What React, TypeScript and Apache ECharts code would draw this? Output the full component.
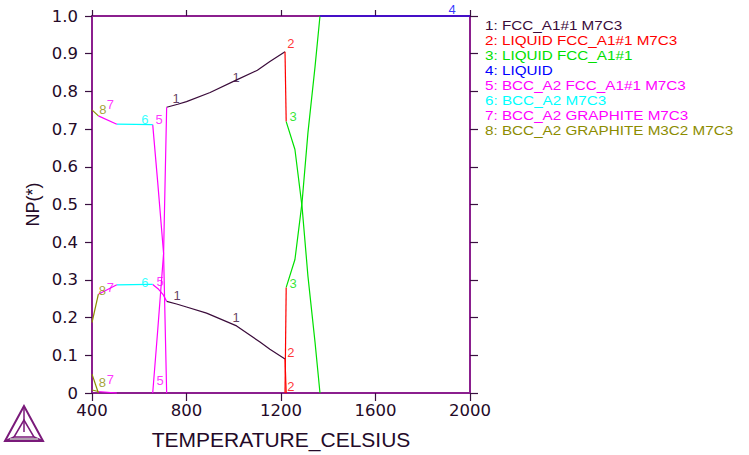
import { useEffect, useRef } from 'react';
import * as echarts from 'echarts';

// phase-region names (legend) and their colours
const regionNames = [
  'FCC_A1#1 M7C3',
  'LIQUID FCC_A1#1 M7C3',
  'LIQUID FCC_A1#1',
  'LIQUID',
  'BCC_A2 FCC_A1#1 M7C3',
  'BCC_A2 M7C3',
  'BCC_A2 GRAPHITE M7C3',
  'BCC_A2 GRAPHITE M3C2 M7C3',
];
const regionColors = ['#3a0b3a', '#ff0000', '#00e000', '#0000ff', '#ff00ff', '#00ffff', '#ff00ff', '#8c8c00'];

const xTicks = [400, 800, 1200, 1600, 2000];

// [temperature, NP] per phase, per region
const r1Fcc = [[716, 0.758], [763, 0.766], [800, 0.773], [900, 0.797], [1010, 0.830], [1100, 0.856], [1153, 0.879], [1217, 0.905]];
const r1M7c3 = [[716, 0.243], [758, 0.236], [800, 0.228], [885, 0.212], [1012, 0.178], [1111, 0.135], [1153, 0.116], [1217, 0.090]];
const r2Fcc = [[1217, 0.905], [1222, 0.72]];
const r2M7c3 = [[1217, 0.09], [1222, 0]];
const r2Liquid = [[1217, 0], [1222, 0.28]];
const r3Fcc = [[1222, 0.72], [1259, 0.646], [1289, 0.495], [1314, 0.31], [1344, 0.135], [1365, 0]];
const r3Liquid = [[1222, 0.28], [1259, 0.354], [1289, 0.505], [1314, 0.69], [1344, 0.865], [1365, 1]];
const r4Liquid = [[1365, 1], [2000, 1]];
const r5Bcc = [[657, 0.712], [678, 0.56], [703, 0.37], [716, 0]];
const r5Fcc = [[657, 0], [678, 0.165], [703, 0.37], [716, 0.758]];
const r5M7c3 = [[657, 0.288], [682, 0.275], [702, 0.26], [716, 0.243]];
const r6Bcc = [[505, 0.713], [657, 0.712]];
const r6M7c3 = [[505, 0.287], [640, 0.288], [657, 0.288]];
const r7Bcc = [[427, 0.735], [505, 0.713]];
const r7M7c3 = [[427, 0.262], [505, 0.287]];
const r7Graphite = [[427, 0.004], [505, 0.0]];
const r8Bcc = [[400, 0.751], [427, 0.735]];
const r8M7c3 = [[400, 0.187], [427, 0.262]];
const r8M3c2 = [[400, 0.05], [427, 0.0]];
const r8Graphite = [[400, 0.008], [427, 0.004]];

const regionLines = [
  [r1Fcc, r1M7c3],
  [r2Fcc, r2M7c3, r2Liquid],
  [r3Fcc, r3Liquid],
  [r4Liquid],
  [r5Bcc, r5Fcc, r5M7c3],
  [r6Bcc, r6M7c3],
  [r7Bcc, r7M7c3, r7Graphite],
  [r8Bcc, r8M7c3, r8M3c2, r8Graphite],
];

// curve tags, placed at [temperature, NP]
const regionTags = [
  [[756, 0.780], [1010, 0.836], [760, 0.259], [1010, 0.201]],
  [[1242, 0.926], [1242, 0.108], [1242, 0.016]],
  [[1251, 0.733], [1251, 0.291]],
  [[1924, 1.018]],
  [[684, 0.725], [688, 0.296], [688, 0.034]],
  [[624, 0.725], [624, 0.294]],
  [[478, 0.765], [478, 0.280], [478, 0.036]],
  [[446, 0.751], [444, 0.272], [444, 0.029]],
];

const axisColor = '#8b1f8e';
const textColor = '#240a28';
const font = 'Liberation Sans, Arial, sans-serif';
const tickFont = 'DejaVu Sans, sans-serif';

export default function App() {
  const chartRef = useRef<HTMLDivElement>(null);

  useEffect(() => {
    if (!chartRef.current) return;
    const chart = echarts.init(chartRef.current, null, { renderer: 'svg' });

    const lineSeries: any[] = [];
    regionLines.forEach((segs, i) => {
      segs.forEach((seg) => {
        lineSeries.push({
          type: 'line',
          data: seg,
          symbol: 'none',
          clip: false,
          lineStyle: { color: regionColors[i], width: 1.2 },
          z: i === 3 ? 5 : 3,
        });
      });
    });

    const tagSeries = regionTags.map((tags, i) => ({
      type: 'scatter',
      data: tags.map((t) => [t[0], t[1], String(i + 1)]),
      symbolSize: 0,
      clip: false,
      silent: true,
      label: {
        show: true,
        position: 'inside',
        formatter: (p: any) => p.value[2],
        color: regionColors[i],
        fontFamily: font,
        fontSize: 13,
      },
      z: 6,
    }));

    const legendTexts = regionNames.map((name, i) => ({
      type: 'text',
      x: 485,
      y: 26 + i * 14.9,
      scaleX: 1.22,
      style: {
        text: `${i + 1}: ${name}`,
        fill: regionColors[i],
        font: `12.5px ${font}`,
        textVerticalAlign: 'middle',
        verticalAlign: 'middle',
      },
    }));

    const logoColor = '#7a1a7a';
    const logo = {
      type: 'group',
      children: [
        { type: 'polygon', shape: { points: [[24, 406], [5, 441], [43, 441]] }, style: { fill: 'none', stroke: logoColor, lineWidth: 2 } },
        { type: 'polygon', shape: { points: [[24, 420], [14, 437], [34, 437]] }, style: { fill: 'none', stroke: logoColor, lineWidth: 1.5 } },
        { type: 'line', shape: { x1: 24, y1: 406, x2: 24, y2: 420 }, style: { stroke: logoColor, lineWidth: 1.5 } },
        { type: 'line', shape: { x1: 5, y1: 441, x2: 14, y2: 437 }, style: { stroke: logoColor, lineWidth: 1.5 } },
        { type: 'line', shape: { x1: 43, y1: 441, x2: 34, y2: 437 }, style: { stroke: logoColor, lineWidth: 1.5 } },
        { type: 'line', shape: { x1: 24, y1: 420, x2: 24, y2: 432 }, style: { stroke: logoColor, lineWidth: 1.5 } },
        { type: 'rect', shape: { x: 10, y: 438, width: 28, height: 2 }, style: { fill: '#b0a0b0' } },
      ],
    };

    chart.setOption({
      animation: false,
      backgroundColor: '#ffffff',
      grid: { left: 92, right: 279, top: 16, bottom: 61 },
      xAxis: [
        {
          type: 'value',
          min: 400,
          max: 2000,
          interval: 400,
          name: 'TEMPERATURE_CELSIUS',
          nameLocation: 'middle',
          nameGap: 36,
          nameMoveOverlap: false,
          nameTextStyle: { color: textColor, fontFamily: font, fontSize: 21 },
          axisLine: { show: true, onZero: false, lineStyle: { color: axisColor, width: 2 } },
          axisTick: { show: true, inside: false, length: 8, lineStyle: { color: '#3a1040', width: 1.2 } },
          axisLabel: {
            color: textColor,
            fontFamily: tickFont,
            fontSize: 16.5,
            margin: 9,
            customValues: xTicks,
            formatter: (v: number) => String(v),
          },
          splitLine: { show: false },
        },
        {
          type: 'value',
          position: 'top',
          min: 400,
          max: 2000,
          interval: 400,
          axisLine: { show: true, onZero: false, lineStyle: { color: axisColor, width: 2 } },
          axisTick: { show: true, inside: false, length: 6, lineStyle: { color: '#3a1040', width: 1.2 } },
          axisLabel: { show: false },
          splitLine: { show: false },
        },
      ],
      yAxis: [
        {
          type: 'value',
          min: 0,
          max: 1,
          interval: 0.1,
          name: 'NP(*)',
          nameLocation: 'middle',
          nameGap: 50,
          nameMoveOverlap: false,
          nameTextStyle: { color: textColor, fontFamily: font, fontSize: 18 },
          axisLine: { show: true, onZero: false, lineStyle: { color: axisColor, width: 2 } },
          axisTick: { show: true, inside: false, length: 7, lineStyle: { color: '#3a1040', width: 1.2 } },
          axisLabel: {
            color: textColor,
            fontFamily: tickFont,
            fontSize: 16.5,
            margin: 14,
            align: 'right',
            formatter: (v: number) => (v === 0 ? '0' : v.toFixed(1)),
          },
          splitLine: { show: false },
        },
        {
          type: 'value',
          position: 'right',
          min: 0,
          max: 1,
          interval: 0.1,
          axisLine: { show: true, onZero: false, lineStyle: { color: axisColor, width: 2 } },
          axisTick: { show: true, inside: false, length: 8, lineStyle: { color: '#3a1040', width: 1.2 } },
          axisLabel: { show: false },
          splitLine: { show: false },
        },
      ],
      series: [...lineSeries, ...tagSeries],
      graphic: [...legendTexts, logo],
    });

    return () => {
      chart.dispose();
    };
  }, []);

  return (
    <div
      ref={chartRef}
      style={{ position: 'fixed', left: 0, top: 0, width: 749, height: 455 }}
    />
  );
}
